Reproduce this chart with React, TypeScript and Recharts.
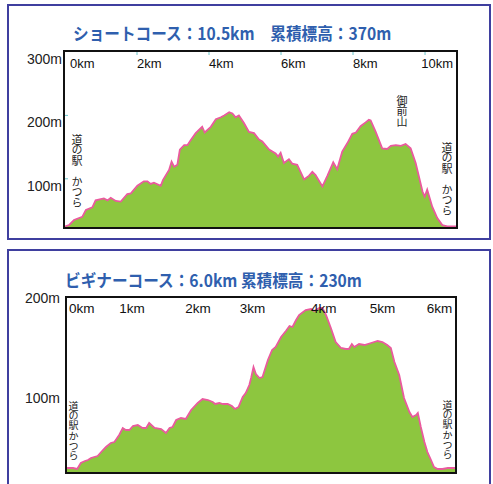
import React from 'react';
import { AreaChart, Area, XAxis, YAxis } from 'recharts';

// ショートコース (10.5km) – distance (km) / elevation (m)
const shortKm = [
  0, 0.11, 0.25, 0.48, 0.58, 0.76, 0.85, 1.08, 1.18, 1.27, 1.41, 1.55, 1.73, 1.83, 2.01, 2.19, 2.29, 2.38,
  2.47, 2.66, 2.72, 2.89, 2.96, 3.03, 3.12, 3.19, 3.31, 3.4, 3.49, 3.63, 3.77, 3.81, 3.88, 4.05, 4.19, 4.33,
  4.42, 4.56, 4.65, 4.74, 4.83, 4.97, 5.11, 5.25, 5.39, 5.48, 5.67, 5.85, 5.92, 5.99, 6.08, 6.22, 6.31, 6.45,
  6.64, 6.78, 6.87, 6.96, 7.15, 7.29, 7.45, 7.56, 7.7, 7.84, 7.98, 8.08, 8.21, 8.35, 8.44, 8.49, 8.63, 8.81,
  8.95, 9.05, 9.19, 9.33, 9.46, 9.6, 9.74, 9.93, 9.99, 10.06, 10.2, 10.34, 10.48, 10.62, 10.86,
];
const shortElev = [
  25, 27, 35, 40, 51, 55, 66, 69, 66, 70, 65, 64, 76, 77, 89, 96, 96, 92,
  94, 89, 98, 114, 127, 119, 122, 146, 153, 153, 161, 172, 180, 182, 173, 182, 194, 197,
  200, 205, 203, 197, 200, 188, 174, 172, 162, 159, 146, 140, 135, 141, 125, 131, 124, 122,
  99, 105, 111, 106, 88, 105, 126, 115, 143, 156, 171, 173, 183, 189, 193, 192, 174, 148,
  147, 152, 153, 152, 155, 148, 125, 80, 72, 83, 56, 38, 27, 25, 25,
];
const shortKmTicks = [0, 2, 4, 6, 8, 10];
const shortKmLabels = ['0km', '2km', '4km', '6km', '8km', '10km'];
const shortElevTicks = [100, 200, 300];

// ビギナーコース (6.0km)
const beginnerKm = [
  0, 0.1, 0.17, 0.23, 0.3, 0.35, 0.4, 0.51, 0.6, 0.65, 0.73, 0.79, 0.87, 0.93, 0.98, 1.04, 1.1, 1.18,
  1.26, 1.32, 1.37, 1.46, 1.57, 1.65, 1.71, 1.76, 1.82, 1.9, 1.98, 2.07, 2.18, 2.26, 2.35, 2.43, 2.47, 2.54,
  2.6, 2.68, 2.75, 2.8, 2.86, 2.93, 2.98, 3.04, 3.07, 3.11, 3.15, 3.21, 3.26, 3.35, 3.42, 3.48, 3.57, 3.65,
  3.71, 3.76, 3.82, 3.87, 3.98, 4.07, 4.12, 4.21, 4.26, 4.32, 4.4, 4.48, 4.57, 4.65, 4.7, 4.75, 4.79, 4.87,
  4.96, 5.07, 5.18, 5.26, 5.34, 5.4, 5.46, 5.54, 5.62, 5.71, 5.76, 5.82, 5.85, 5.9, 5.96, 6.01, 6.07, 6.12,
  6.18, 6.26, 6.35, 6.47,
];
const beginnerElev = [
  30, 30, 29, 35, 37, 38, 40, 42, 48, 51, 55, 56, 63, 70, 68, 68, 72, 73,
  70, 70, 75, 70, 69, 65, 70, 71, 78, 80, 79, 88, 95, 99, 98, 96, 94, 95,
  94, 94, 92, 89, 91, 101, 105, 113, 120, 131, 124, 120, 121, 138, 148, 151, 161, 167,
  172, 171, 178, 183, 188, 189, 187, 190, 190, 183, 170, 156, 150, 149, 149, 154, 151, 154,
  153, 155, 157, 156, 153, 150, 136, 123, 100, 86, 81, 83, 85, 71, 56, 46, 38, 31,
  29, 29, 30, 30,
];
// km labels sit where the original drawing puts them (not evenly spaced)
const beginnerKmTicks = [0, 0.87, 1.97, 2.88, 4.07, 5.05, 6.0];
const beginnerKmLabels = ['0km', '1km', '2km', '3km', '4km', '5km', '6km'];
const beginnerElevTicks = [100, 200];

const W = 493;
const JP = '"Noto Sans CJK JP", sans-serif';
const LAT = '"Liberation Sans", Arial, sans-serif';

type Plot = { left: number; right: number; top: number; bottom: number };

function ElevationChart(props: {
  km: number[];
  elev: number[];
  height: number;
  plot: Plot;
  xDomain: [number, number];
  yDomain: [number, number];
  kmTicks: number[];
  kmLabels: string[];
  elevTicks: number[];
  kmFont: number;
  kmDy: number;
  firstDx: number;
  lastEnd: boolean;
  yLabelX: number;
  yLabelDy: number;
  teal: boolean;
}) {
  const { plot } = props;
  const rows = props.km.map((km, i) => ({ km, elev: props.elev[i] }));
  const XH = 20;
  const YW = 40;
  return (
    <div style={{ position: 'absolute', left: 0, top: 0 }}>
      <AreaChart
        width={W}
        height={props.height}
        data={rows}
        margin={{ top: plot.top - XH, left: plot.left - YW, right: W - plot.right, bottom: props.height - plot.bottom }}
      >
        <XAxis
          type="number"
          dataKey="km"
          orientation="top"
          height={XH}
          domain={props.xDomain}
          allowDataOverflow
          ticks={props.kmTicks}
          interval={0}
          axisLine={false}
          tickLine={false}
          tick={(p: any) => {
            const i = props.kmTicks.indexOf(p.payload.value);
            const end = props.lastEnd && i === props.kmTicks.length - 1;
            const tx = end ? plot.right - 3 : i === 0 ? p.x + props.firstDx : p.x;
            return (
              <g>
                {props.teal && i > 0 && (
                  <line x1={p.x} x2={p.x} y1={plot.top} y2={plot.top + 3} stroke="#6cc6cc" strokeWidth={1} />
                )}
                <text
                  x={tx}
                  y={plot.top + props.kmDy}
                  dy="0.35em"
                  textAnchor={end ? 'end' : 'start'}
                  fontSize={props.kmFont}
                  fontFamily={LAT}
                  fill="#111"
                >
                  {props.kmLabels[i]}
                </text>
              </g>
            );
          }}
        />
        <YAxis
          type="number"
          width={YW}
          domain={props.yDomain}
          allowDataOverflow
          ticks={props.elevTicks}
          interval={0}
          axisLine={false}
          tickLine={false}
          tick={(p: any) => (
            <g>
              {props.teal && p.payload.value < props.yDomain[1] && (
                <line x1={plot.left} x2={plot.left + 3} y1={p.y} y2={p.y} stroke="#6cc6cc" strokeWidth={1} />
              )}
              <text
                x={props.yLabelX}
                y={p.y + props.yLabelDy}
                dy="0.35em"
                textAnchor="end"
                fontSize={14}
                fontFamily={LAT}
                fill="#222"
              >
                {p.payload.value}m
              </text>
            </g>
          )}
        />
        <Area
          type="linear"
          dataKey="elev"
          stroke="#ea5a9e"
          strokeWidth={1.8}
          fill="#8dc63f"
          fillOpacity={1}
          dot={false}
          activeDot={false}
          isAnimationActive={false}
        />
      </AreaChart>
    </div>
  );
}

// vertical Japanese labels (道の駅 かつら, 御前山)
const vText = (left: number, top: number, size: number): React.CSSProperties => ({
  position: 'absolute',
  left,
  top,
  writingMode: 'vertical-rl',
  fontSize: size,
  lineHeight: `${size}px`,
  letterSpacing: -0.5,
  fontFamily: JP,
  color: '#222',
  whiteSpace: 'nowrap',
});

export default function App() {
  const box = (top: number, height: number): React.CSSProperties => ({
    position: 'absolute',
    left: 7,
    top,
    width: 484,
    height,
    boxSizing: 'border-box',
    border: '2px solid #3f3f9f',
  });
  const plotBorder = (left: number, top: number, width: number, height: number): React.CSSProperties => ({
    position: 'absolute',
    left,
    top,
    width,
    height,
    boxSizing: 'border-box',
    border: '2px solid #111',
    pointerEvents: 'none',
  });
  const title: React.CSSProperties = {
    position: 'absolute',
    fontFamily: JP,
    fontWeight: 700,
    fontSize: 17,
    lineHeight: '20px',
    color: '#2f5fae',
    whiteSpace: 'nowrap',
    transformOrigin: 'left center',
    transform: 'scaleX(0.92)',
  };
  return (
    <div style={{ position: 'absolute', left: 0, top: 0, width: W, height: 484, background: '#fff', overflow: 'hidden' }}>
      <div style={box(4, 236)} />
      <div style={box(249, 260)} />

      <div style={{ ...title, left: 73, top: 23 }}>ショートコース：10.5km　累積標高：370m</div>
      <div style={{ ...title, left: 65, top: 270 }}>ビギナーコース：6.0km 累積標高：230m</div>

      <ElevationChart
        km={shortKm}
        elev={shortElev}
        height={240}
        plot={{ left: 65, right: 456, top: 52, bottom: 227 }}
        xDomain={[0, 10.86]}
        yDomain={[24, 300]}
        kmTicks={shortKmTicks}
        kmLabels={shortKmLabels}
        elevTicks={shortElevTicks}
        kmFont={13}
        kmDy={11}
        firstDx={5}
        lastEnd
        yLabelX={62}
        yLabelDy={7}
        teal
      />
      <ElevationChart
        km={beginnerKm}
        elev={beginnerElev}
        height={484}
        plot={{ left: 67, right: 455, top: 298, bottom: 472 }}
        xDomain={[0, 6.47]}
        yDomain={[26, 200]}
        kmTicks={beginnerKmTicks}
        kmLabels={beginnerKmLabels}
        elevTicks={beginnerElevTicks}
        kmFont={13.5}
        kmDy={10}
        firstDx={2}
        lastEnd={false}
        yLabelX={60}
        yLabelDy={0}
        teal={false}
      />

      <div style={plotBorder(63, 50, 395, 179)} />
      <div style={plotBorder(65, 296, 392, 178)} />

      <div style={vText(71, 134, 11)}>道の駅　かつら</div>
      <div style={vText(441, 142, 11)}>道の駅　かつら</div>
      <div style={vText(396, 95, 11)}>御前山</div>
      <div style={vText(68, 401, 10)}>道の駅 かつら</div>
      <div style={vText(442, 400, 10)}>道の駅 かつら</div>
    </div>
  );
}
